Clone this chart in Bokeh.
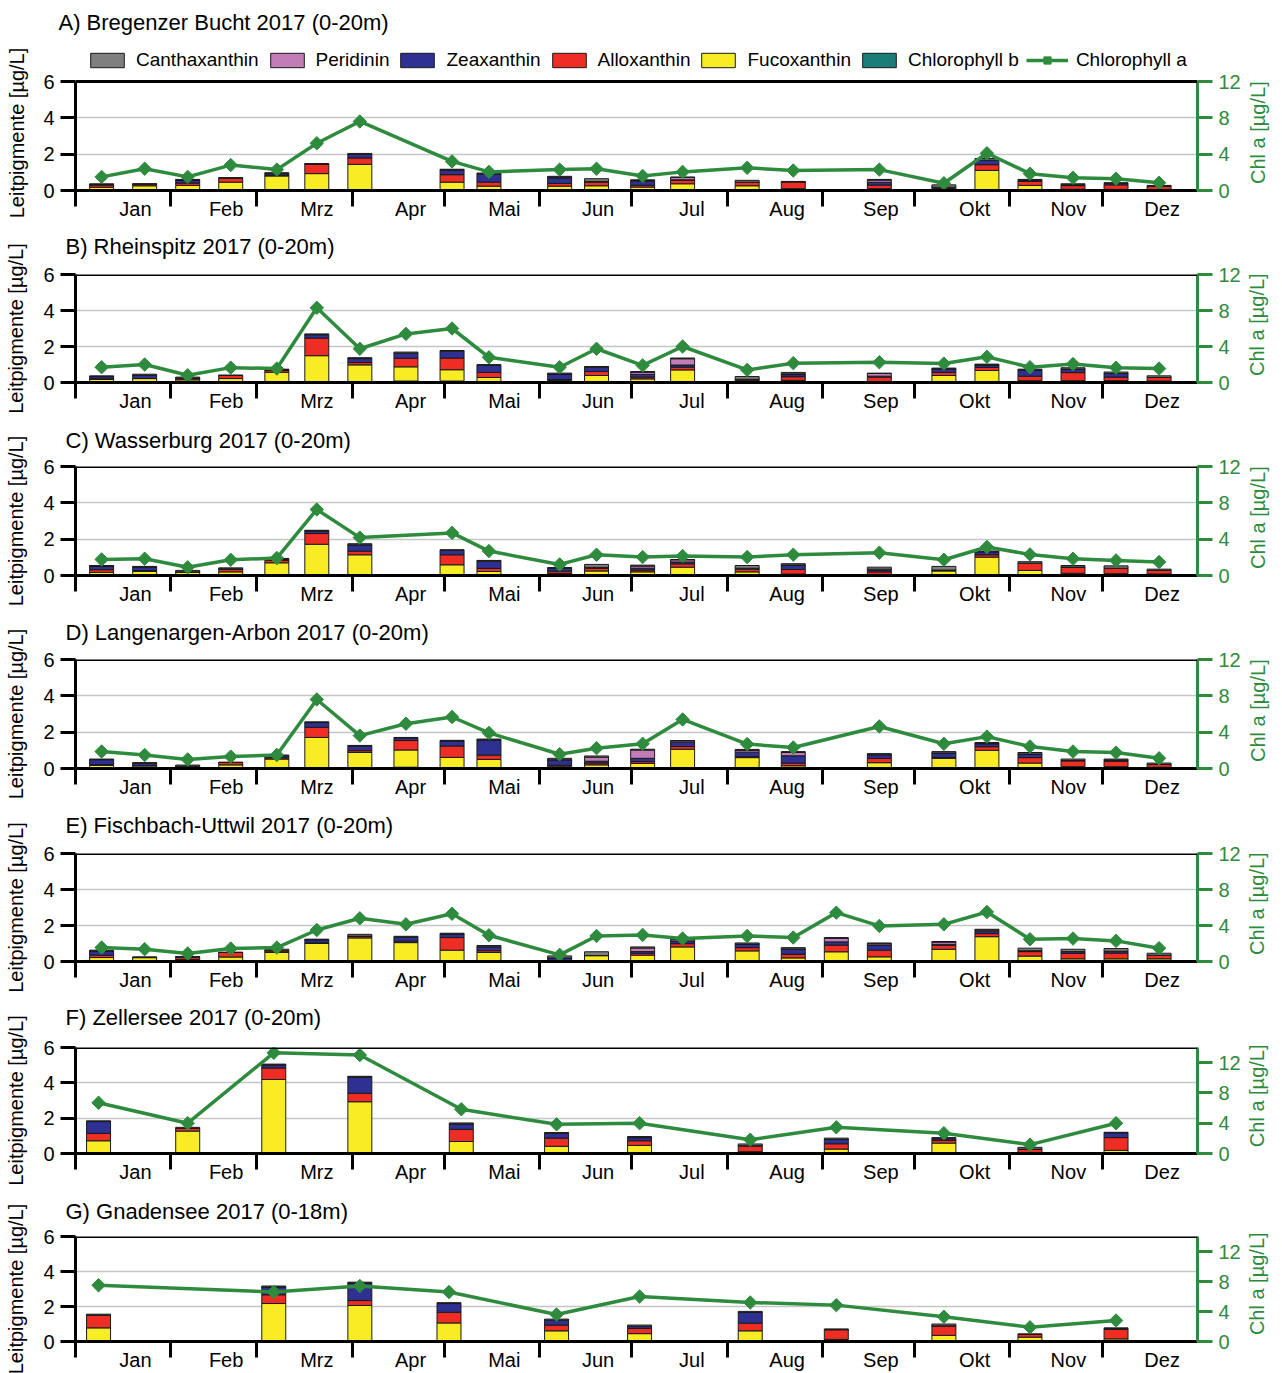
import math
import pandas as pd
from bokeh.plotting import figure
from bokeh.layouts import column
from bokeh.models import (ColumnDataSource, Range1d, LinearAxis, FixedTicker,
                          Span, Legend, LegendItem, Title)
from bokeh.embed import file_html
from bokeh.resources import INLINE

# ---------------------------------------------------------------- labels
MONTHS = ["Jan", "Feb", "Mrz", "Apr", "Mai", "Jun", "Jul", "Aug", "Sep", "Okt", "Nov", "Dez"]
# stacking order, bottom to top
PIGMENTS = ["Chlorophyll b", "Fucoxanthin", "Alloxanthin", "Zeaxanthin", "Peridinin", "Canthaxanthin"]
COLORS = ["#1b7d78", "#f8ec25", "#ee2e24", "#2e3192", "#c27cb6", "#7f7f7f"]
GREEN = "#2e8b3e"
FONT = "Liberation Sans"

# ---------------------------------------------------------------- A) Bregenzer Bucht
A_dates = ["01-09", "01-23", "02-06", "02-20", "03-07", "03-20", "04-03", "05-03", "05-15", "06-07", "06-19",
           "07-04", "07-17", "08-07", "08-22", "09-19", "10-10", "10-24", "11-07", "11-21", "12-05", "12-19"]
A_chlb = [0, 0, 0, 0, 0, 0, 0.03, 0.03, 0, 0, 0, 0, 0, 0, 0, 0, 0, 0, 0, 0, 0, 0]
A_fuco = [0.18, 0.26, 0.28, 0.46, 0.80, 0.93, 1.41, 0.43, 0.24, 0.24, 0.26,
          0.19, 0.37, 0.26, 0.10, 0.10, 0.12, 1.11, 0.28, 0.07, 0.06, 0.05]
A_allo = [0.12, 0.07, 0.13, 0.22, 0.03, 0.53, 0.35, 0.41, 0.22, 0.15, 0.20,
          0.10, 0.20, 0.20, 0.38, 0.20, 0.06, 0.31, 0.22, 0.20, 0.25, 0.18]
A_zea = [0.03, 0.02, 0.17, 0, 0.10, 0, 0.20, 0.26, 0.46, 0.30, 0.04,
         0.22, 0.02, 0, 0, 0.15, 0, 0.25, 0.08, 0.05, 0.08, 0]
A_peri = [0, 0, 0, 0, 0, 0, 0, 0, 0, 0.04, 0,
          0.04, 0.13, 0, 0, 0.12, 0, 0, 0, 0, 0, 0]
A_cantha = [0.04, 0.02, 0.03, 0.02, 0.05, 0.02, 0.05, 0.04, 0.04, 0.05, 0.15,
            0.04, 0.02, 0.10, 0.02, 0.04, 0.13, 0.09, 0.03, 0.05, 0.04, 0.05]
A_chla = [1.5, 2.4, 1.5, 2.8, 2.3, 5.2, 7.6, 3.2, 2.05, 2.3, 2.4,
          1.6, 2.05, 2.5, 2.2, 2.3, 0.8, 4.1, 1.85, 1.4, 1.3, 0.85]

# ---------------------------------------------------------------- B) Rheinspitz
B_dates = ["01-09", "01-23", "02-06", "02-20", "03-07", "03-20", "04-03", "04-18", "05-03", "05-15", "06-07", "06-19",
           "07-04", "07-17", "08-07", "08-22", "09-19", "10-10", "10-24", "11-07", "11-21", "12-05", "12-19"]
B_chlb = [0, 0, 0, 0, 0, 0, 0, 0.08, 0.08, 0, 0, 0, 0, 0, 0, 0, 0, 0, 0, 0, 0, 0, 0]
B_fuco = [0.18, 0.22, 0.15, 0.22, 0.57, 1.49, 0.98, 0.79, 0.63, 0.28, 0.12, 0.39,
          0.20, 0.70, 0.12, 0.12, 0.05, 0.39, 0.67, 0.10, 0.10, 0.10, 0.08]
B_allo = [0.03, 0, 0.10, 0.17, 0.10, 0.98, 0.13, 0.48, 0.65, 0.28, 0.05, 0.22,
          0.10, 0.15, 0.06, 0.20, 0.25, 0.17, 0.17, 0.25, 0.45, 0.20, 0.20]
B_zea = [0.12, 0.18, 0, 0, 0.05, 0.19, 0.22, 0.28, 0.38, 0.40, 0.30, 0.24,
         0.15, 0.12, 0, 0.12, 0.05, 0.20, 0.14, 0.35, 0.20, 0.20, 0]
B_peri = [0, 0, 0, 0, 0, 0, 0, 0, 0, 0, 0, 0,
          0.12, 0.35, 0, 0.04, 0.15, 0, 0, 0, 0, 0, 0]
B_cantha = [0.04, 0.06, 0.05, 0.02, 0.02, 0.04, 0.05, 0.06, 0.04, 0.03, 0.05, 0.04,
            0.04, 0.04, 0.15, 0.08, 0.02, 0.04, 0.04, 0.04, 0.07, 0.08, 0.09]
B_chla = [1.7, 2.0, 0.8, 1.65, 1.55, 8.3, 3.75, 5.4, 6.0, 2.8, 1.7, 3.75,
          1.9, 4.0, 1.4, 2.15, 2.25, 2.1, 2.85, 1.7, 2.05, 1.65, 1.55]

# ---------------------------------------------------------------- C) Wasserburg
C_dates = ["01-09", "01-23", "02-06", "02-20", "03-07", "03-20", "04-03", "05-03", "05-15", "06-07", "06-19",
           "07-04", "07-17", "08-07", "08-22", "09-19", "10-10", "10-24", "11-07", "11-21", "12-05", "12-19"]
C_chlb = [0, 0, 0, 0, 0, 0, 0, 0, 0, 0, 0, 0, 0, 0, 0, 0, 0, 0, 0, 0, 0, 0]
C_fuco = [0.17, 0.22, 0.20, 0.20, 0.70, 1.72, 1.14, 0.59, 0.22, 0.12, 0.25,
          0.20, 0.46, 0.20, 0.08, 0.05, 0.25, 1.01, 0.28, 0.12, 0.10, 0.08]
C_allo = [0.15, 0.05, 0, 0.15, 0.13, 0.59, 0.20, 0.55, 0.17, 0.12, 0.15,
          0.10, 0.18, 0.15, 0.25, 0.15, 0.05, 0.13, 0.40, 0.35, 0.30, 0.20]
C_zea = [0.20, 0.18, 0, 0.02, 0.08, 0.15, 0.35, 0.24, 0.40, 0.15, 0.05,
         0.10, 0.10, 0.05, 0.25, 0.10, 0, 0.17, 0, 0, 0, 0]
C_peri = [0, 0, 0, 0, 0, 0, 0, 0, 0, 0, 0,
          0.12, 0.13, 0, 0, 0.05, 0, 0, 0, 0, 0, 0]
C_cantha = [0.03, 0.05, 0.08, 0.05, 0.03, 0.03, 0.06, 0.04, 0.04, 0.05, 0.16,
            0.05, 0, 0.15, 0.07, 0.11, 0.20, 0.04, 0.08, 0.08, 0.13, 0.07]
C_chla = [1.77, 1.85, 0.9, 1.73, 1.92, 7.27, 4.17, 4.69, 2.69, 1.22, 2.29,
          2.03, 2.14, 2.03, 2.29, 2.51, 1.73, 3.14, 2.32, 1.85, 1.66, 1.48]

# ---------------------------------------------------------------- D) Langenargen-Arbon
D_dates = ["01-09", "01-23", "02-06", "02-20", "03-07", "03-20", "04-03", "04-18", "05-03", "05-15", "06-07", "06-19",
           "07-04", "07-17", "08-07", "08-22", "09-19", "10-10", "10-24", "11-07", "11-21", "12-05", "12-19"]
D_chlb = [0, 0, 0, 0, 0, 0, 0, 0.07, 0, 0, 0, 0, 0, 0, 0, 0, 0, 0, 0, 0, 0, 0, 0]
D_fuco = [0.17, 0.15, 0.13, 0.20, 0.52, 1.71, 0.88, 0.95, 0.61, 0.50, 0.13, 0.20,
          0.28, 1.06, 0.60, 0.15, 0.32, 0.56, 1.00, 0.30, 0.10, 0.10, 0.07]
D_allo = [0.05, 0, 0, 0.13, 0.07, 0.56, 0.10, 0.52, 0.63, 0.24, 0.05, 0.10,
          0.10, 0.15, 0.05, 0.15, 0.24, 0.05, 0.20, 0.30, 0.32, 0.30, 0.15]
D_zea = [0.27, 0.14, 0, 0, 0.12, 0.26, 0.25, 0.13, 0.28, 0.84, 0.30, 0.10,
         0.18, 0.24, 0.25, 0.40, 0.20, 0.25, 0.17, 0.20, 0.02, 0.07, 0]
D_peri = [0, 0, 0, 0, 0, 0, 0, 0, 0, 0, 0, 0.22,
          0.46, 0.08, 0.10, 0.18, 0, 0, 0, 0, 0, 0, 0]
D_cantha = [0.03, 0.03, 0.06, 0.02, 0.03, 0.04, 0.04, 0.04, 0.03, 0.04, 0.08, 0.07,
            0.04, 0, 0.05, 0.05, 0.06, 0.07, 0.06, 0.08, 0.08, 0.05, 0.08]
D_chla = [1.87, 1.49, 1.0, 1.31, 1.49, 7.6, 3.62, 4.93, 5.67, 3.92, 1.57, 2.24,
          2.72, 5.4, 2.69, 2.31, 4.63, 2.72, 3.51, 2.43, 1.87, 1.75, 1.12]

# ---------------------------------------------------------------- E) Fischbach-Uttwil
E_dates = ["01-09", "01-23", "02-06", "02-20", "03-07", "03-20", "04-03", "04-18", "05-03", "05-15", "06-07", "06-19",
           "07-04", "07-17", "08-07", "08-22", "09-05", "09-19", "10-10", "10-24", "11-07", "11-21", "12-05", "12-19"]
E_chlb = [0, 0, 0, 0, 0, 0, 0, 0, 0, 0, 0, 0, 0, 0.05, 0, 0, 0, 0, 0, 0, 0, 0, 0, 0]
E_fuco = [0.22, 0.22, 0.12, 0.25, 0.50, 1.00, 1.31, 1.05, 0.63, 0.50, 0.05, 0.33,
          0.35, 0.76, 0.59, 0.20, 0.54, 0.26, 0.68, 1.38, 0.30, 0.15, 0.15, 0.15]
E_allo = [0.13, 0, 0.12, 0.25, 0.10, 0.04, 0.10, 0.08, 0.70, 0.10, 0, 0,
          0.10, 0.18, 0.18, 0.20, 0.37, 0.37, 0.22, 0.17, 0.25, 0.30, 0.32, 0.20]
E_zea = [0.24, 0, 0, 0, 0, 0.17, 0, 0.22, 0.20, 0.22, 0.15, 0,
         0.10, 0.15, 0.20, 0.30, 0.18, 0.28, 0.05, 0.13, 0.05, 0.10, 0.10, 0]
E_peri = [0, 0, 0, 0, 0, 0, 0, 0, 0, 0, 0, 0,
          0.20, 0.10, 0, 0, 0.20, 0.08, 0.13, 0.07, 0, 0, 0, 0]
E_cantha = [0.04, 0.04, 0.04, 0.02, 0.08, 0.03, 0.10, 0.05, 0.04, 0.07, 0.11, 0.21,
            0.06, 0, 0.06, 0.07, 0.04, 0.04, 0.03, 0.04, 0.14, 0.13, 0.15, 0.11]
E_chla = [1.55, 1.37, 0.89, 1.44, 1.55, 3.5, 4.8, 4.13, 5.31, 2.91, 0.74, 2.84,
          2.95, 2.55, 2.84, 2.66, 5.43, 3.95, 4.13, 5.5, 2.47, 2.55, 2.29, 1.48]

# ---------------------------------------------------------------- F) Zellersee
F_dates = ["01-08", "02-06", "03-06", "04-03", "05-06", "06-06", "07-03", "08-08", "09-05", "10-10", "11-07", "12-05"]
F_chlb = [0, 0, 0, 0, 0, 0, 0.03, 0, 0.05, 0, 0, 0]
F_fuco = [0.72, 1.27, 4.19, 2.93, 0.68, 0.41, 0.43, 0.10, 0.20, 0.59, 0.05, 0.18]
F_allo = [0.42, 0.15, 0.65, 0.48, 0.68, 0.46, 0.26, 0.34, 0.30, 0.15, 0.20, 0.72]
F_zea = [0.67, 0, 0.18, 0.92, 0.32, 0.28, 0.18, 0, 0.25, 0.10, 0, 0.28]
F_peri = [0, 0, 0, 0, 0, 0, 0, 0, 0, 0, 0, 0]
F_cantha = [0.04, 0.06, 0.04, 0.04, 0.05, 0.03, 0.06, 0.10, 0.07, 0.06, 0.10, 0.02]
F_chla = [6.7, 4.0, 13.3, 13.0, 5.84, 3.85, 4.0, 1.82, 3.46, 2.68, 1.17, 4.0]

# ---------------------------------------------------------------- G) Gnadensee
G_dates = ["01-08", "03-06", "04-03", "05-02", "06-06", "07-03", "08-08", "09-05", "10-10", "11-07", "12-05"]
G_chlb = [0, 0, 0, 0.05, 0, 0, 0, 0, 0, 0, 0]
G_fuco = [0.78, 2.17, 2.06, 1.01, 0.61, 0.45, 0.61, 0.12, 0.35, 0.25, 0.15]
G_allo = [0.72, 0.50, 0.28, 0.61, 0.33, 0.30, 0.44, 0.56, 0.55, 0.15, 0.55]
G_zea = [0, 0.45, 1.00, 0.50, 0.28, 0.12, 0.61, 0, 0, 0, 0.04]
G_peri = [0, 0, 0, 0, 0, 0, 0, 0, 0, 0, 0]
G_cantha = [0.06, 0.05, 0.05, 0.05, 0.06, 0.07, 0.06, 0.04, 0.10, 0.04, 0.04]
G_chla = [7.5, 6.6, 7.4, 6.6, 3.6, 6.0, 5.2, 4.85, 3.3, 1.9, 2.8]

# ---------------------------------------------------------------- time axis helpers
YEAR_START = pd.Timestamp("2017-01-01")
MONTH_STARTS = [(d - YEAR_START).days for d in pd.date_range("2017-01-01", "2017-12-01", freq="MS")]
MONTH_ENDS = MONTH_STARTS[1:] + [365]
LABEL_POS = [float((a + b) / 2 + 4) for a, b in zip(MONTH_STARTS, MONTH_ENDS)]

FIG_W = 1282
BORDER_L = 75
BORDER_R = 85
PIG_MAX = 6          # left axis top


def day_of_year(dates):
    return [(pd.Timestamp("2017-" + d) - YEAR_START).days + 0.5 for d in dates]


def text_axis(side_text, value, color, orientation, standoff):
    """An axis without line or ticks that only carries one rotated caption."""
    ax = LinearAxis(ticker=FixedTicker(ticks=[value]),
                    major_label_overrides={value: side_text},
                    major_label_orientation=orientation)
    ax.axis_line_color = None
    ax.major_tick_line_color = None
    ax.minor_tick_line_color = None
    ax.major_tick_out = 0
    ax.major_tick_in = 0
    ax.major_label_standoff = standoff
    ax.major_label_text_font = FONT
    ax.major_label_text_font_size = "20px"
    ax.major_label_text_color = color
    return ax


def panel(title, dates, chlb, fuco, allo, zea, peri, cantha, chla, chl_top,
          height, border_top, border_bottom, plot_h=None, title_rise=None,
          title_offset=-10, legend=False):
    src = ColumnDataSource(dict(x=day_of_year(dates), chlb=chlb, fuco=fuco, allo=allo,
                                zea=zea, peri=peri, cantha=cantha, chla=chla))
    frame_h = height - border_top - border_bottom
    if plot_h is None:
        plot_h = frame_h
    # the frame may be taller than the 0..6 region (room for the legend)
    stretch = frame_h / plot_h
    p = figure(width=FIG_W, height=height, x_range=Range1d(0, 365),
               y_range=Range1d(0, PIG_MAX * stretch),
               output_backend="svg", toolbar_location=None, title=title,
               min_border_left=BORDER_L, min_border_right=BORDER_R,
               min_border_top=border_top, min_border_bottom=border_bottom)
    p.extra_y_ranges = {"chl": Range1d(0, chl_top * stretch)}
    p.outline_line_color = None
    p.background_fill_color = "white"
    p.border_fill_color = "white"

    p.title.text_font = FONT
    p.title.text_font_size = "22px"
    p.title.text_font_style = "normal"
    p.title.text_color = "black"
    p.title.offset = title_offset
    if title_rise is None:
        p.title.standoff = 15
    else:
        # blank spacer between frame and heading lifts the heading
        p.title.standoff = 2
        p.add_layout(Title(text=" ", text_font_size="1px", standoff=max(title_rise - 14.4, 0)), "above")

    # grid
    p.xgrid.visible = False
    p.ygrid.ticker = FixedTicker(ticks=[2, 4])
    p.ygrid.grid_line_color = "#c6c6c6"
    p.ygrid.grid_line_width = 1.5

    # stacked pigment bars
    bars = p.vbar_stack(["chlb", "fuco", "allo", "zea", "peri", "cantha"], x="x", width=7.8,
                        fill_color=COLORS, line_color="#1a1a1a", line_width=1, source=src)

    # chlorophyll a on the secondary axis
    chl_line = p.line("x", "chla", source=src, y_range_name="chl", line_color=GREEN, line_width=3.5)
    chl_dots = p.scatter("x", "chla", source=src, y_range_name="chl", marker="square",
                         angle=math.pi / 4, size=9.5, fill_color=GREEN, line_color=GREEN)

    p.add_layout(Span(location=PIG_MAX, dimension="width", line_color="black", line_width=3))

    # month axis: boundaries as minor ticks, names centred in each month
    xa = p.xaxis[0]
    xa.ticker = FixedTicker(ticks=LABEL_POS, minor_ticks=MONTH_STARTS)
    xa.major_label_overrides = {v: m for v, m in zip(LABEL_POS, MONTHS)}
    xa.major_tick_line_color = None
    xa.major_tick_out = 0
    xa.major_tick_in = 0
    xa.minor_tick_out = 16
    xa.minor_tick_in = 0
    xa.minor_tick_line_color = "black"
    xa.minor_tick_line_width = 3
    xa.axis_line_color = "black"
    xa.axis_line_width = 3
    xa.major_label_text_font = FONT
    xa.major_label_text_font_size = "20px"
    xa.major_label_text_color = "black"
    xa.major_label_standoff = -9

    ya = p.yaxis[0]
    ya.ticker = FixedTicker(ticks=[0, 2, 4, 6])
    ya.bounds = (0, PIG_MAX)
    ya.major_label_text_font = FONT
    ya.major_label_text_font_size = "20px"
    ya.major_label_text_color = "black"
    ya.major_label_standoff = 6
    ya.major_tick_out = 15
    ya.major_tick_in = 0
    ya.major_tick_line_width = 3
    ya.major_tick_line_color = "black"
    ya.minor_tick_line_color = None
    ya.axis_line_width = 3
    ya.axis_line_color = "black"
    if stretch == 1:
        ya.axis_label = "Leitpigmente [µg/L]"
        ya.axis_label_text_font = FONT
        ya.axis_label_text_font_size = "20px"
        ya.axis_label_text_font_style = "normal"
        ya.axis_label_text_color = "black"
        ya.axis_label_standoff = 13
    else:
        # caption centred a little below the middle of the 0..6 region
        mid = PIG_MAX * (plot_h / 2 + 3) / plot_h
        p.add_layout(text_axis("Leitpigmente [µg/L]", mid, "black", "vertical", 13), "left")

    ra = LinearAxis(y_range_name="chl", ticker=FixedTicker(ticks=[0, 4, 8, 12]), bounds=(0, chl_top))
    ra.major_label_text_font = FONT
    ra.major_label_text_font_size = "20px"
    ra.major_label_text_color = GREEN
    ra.major_label_standoff = 6
    ra.major_tick_out = 15
    ra.major_tick_in = 0
    ra.major_tick_line_width = 3
    ra.major_tick_line_color = GREEN
    ra.minor_tick_line_color = None
    ra.axis_line_width = 3
    ra.axis_line_color = GREEN
    p.add_layout(ra, "right")

    # secondary caption, reading upwards from just above the baseline
    start = PIG_MAX * 6.5 / plot_h
    p.add_layout(text_axis("Chl a [µg/L]", start, GREEN, math.pi / 2, 14), "right")

    if legend:
        items = [LegendItem(label=PIGMENTS[i], renderers=[bars[i]]) for i in reversed(range(len(PIGMENTS)))]
        items.append(LegendItem(label="Chlorophyll a", renderers=[chl_line, chl_dots]))
        leg = Legend(items=items, orientation="horizontal", location=(11, plot_h + 10.5),
                     margin=0, padding=2, spacing=7, label_standoff=8,
                     glyph_width=42, glyph_height=18,
                     label_text_font=FONT, label_text_font_size="19px", label_text_color="black",
                     border_line_color=None, background_fill_alpha=0)
        p.add_layout(leg)
    return p


figs = [
    panel("A) Bregenzer Bucht 2017 (0-20m)", A_dates, A_chlb, A_fuco, A_allo, A_zea, A_peri, A_cantha, A_chla,
          12, 230, 42, 40, plot_h=109, title_offset=-17, legend=True),
    panel("B) Rheinspitz 2017 (0-20m)", B_dates, B_chlb, B_fuco, B_allo, B_zea, B_peri, B_cantha, B_chla,
          12, 193, 43, 41, title_rise=26),
    panel("C) Wasserburg 2017 (0-20m)", C_dates, C_chlb, C_fuco, C_allo, C_zea, C_peri, C_cantha, C_chla,
          12, 193, 43, 41, title_rise=24),
    panel("D) Langenargen-Arbon 2017 (0-20m)", D_dates, D_chlb, D_fuco, D_allo, D_zea, D_peri, D_cantha, D_chla,
          12, 193, 43, 41, title_rise=25),
    panel("E) Fischbach-Uttwil 2017 (0-20m)", E_dates, E_chlb, E_fuco, E_allo, E_zea, E_peri, E_cantha, E_chla,
          12, 192, 43, 40, title_rise=26),
    panel("F) Zellersee 2017 (0-20m)", F_dates, F_chlb, F_fuco, F_allo, F_zea, F_peri, F_cantha, F_chla,
          14, 192, 43, 40, title_rise=28),
    panel("G) Gnadensee 2017 (0-18m)", G_dates, G_chlb, G_fuco, G_allo, G_zea, G_peri, G_cantha, G_chla,
          14, 180, 43, 30, title_rise=23),
]

layout = column(*figs, spacing=0)
open("out.html", "w").write(file_html(layout, INLINE))
